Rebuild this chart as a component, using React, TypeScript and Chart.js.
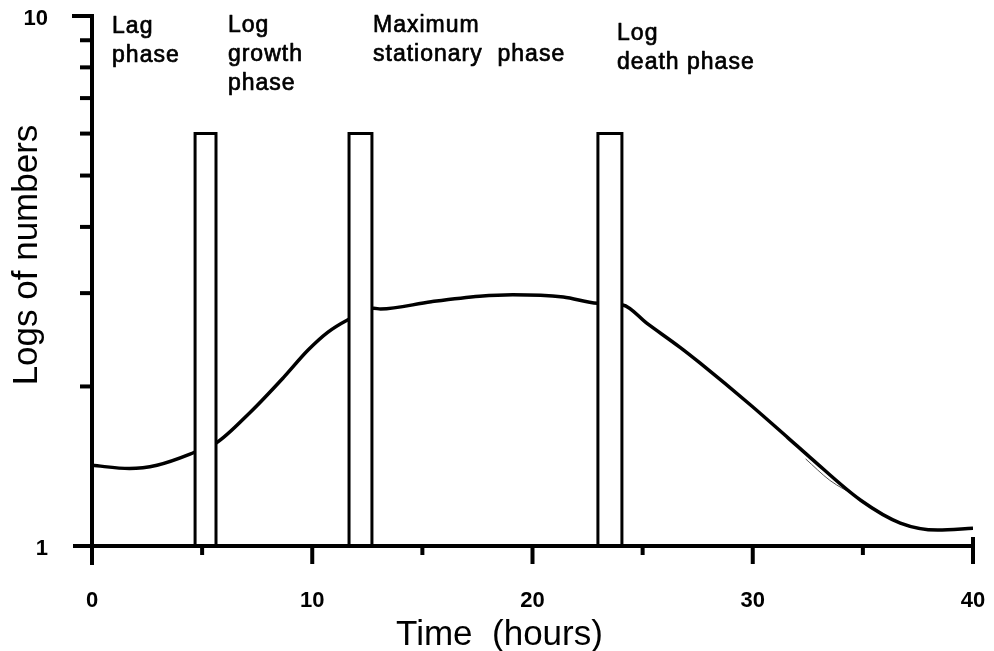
import React, { useEffect, useRef } from "react";
import { Chart, registerables } from "chart.js";

Chart.register(...registerables);

// Growth curve (time in hours, number of organisms on log scale)
const hours = [0, 1.7, 2.95, 4.45, 4.9, 5.6, 7.2, 8.7, 9.8, 10.7, 11.6, 12.8, 13.1, 15.4, 17.6, 19.1, 21.4, 22.95, 24.1, 25.2, 26.7, 27.6, 29.9, 31.6, 32.6, 34.9, 36.7, 38.4, 40];
const numbers = [1.42, 1.4, 1.42, 1.49, 1.52, 1.56, 1.79, 2.08, 2.34, 2.53, 2.67, 2.81, 2.8, 2.89, 2.96, 2.98, 2.95, 2.87, 2.85, 2.63, 2.37, 2.215, 1.845, 1.6, 1.47, 1.22, 1.105, 1.072, 1.08];

// faint second trace in the death phase
const traceHours = [32.4, 33.5, 34.7, 35.8, 37.0];
const traceNumbers = [1.46, 1.33, 1.24, 1.15, 1.09];

// phase separator bars (start hour, end hour, top value)
const barStarts = [4.68, 11.67, 22.97];
const barEnds = [5.63, 12.71, 24.06];
const barTops = [6, 6, 6];

// phase labels
const phaseHours = [0.91, 6.17, 12.76, 23.84];
const phaseLines = [["Lag", "phase"], ["Log", "growth", "phase"], ["Maximum", "stationary  phase"], ["Log", "death phase"]];
const phaseOffsets = [17, 16, 16, 24];

// axis ticks
const xLabelTicks = [0, 10, 20, 30, 40];
const xMinorTicks = [5, 15, 25, 35];
const yLabelTicks = [1, 10];
const yMinorTicks = [2, 3, 4, 5, 6, 7, 8, 9];

const xTitle = "Time  (hours)";
const yTitle = "Logs of numbers";

const decorPlugin = {
  id: "decor",
  afterDatasetsDraw(chart: any) {
    const { ctx, chartArea } = chart;
    const x = chart.scales.x;
    const y = chart.scales.y;
    ctx.save();
    ctx.strokeStyle = "#000";
    ctx.fillStyle = "#000";
    ctx.lineCap = "butt";
    const yb = y.getPixelForValue(1);
    const xl = x.getPixelForValue(0);
    const line = (x1: number, y1: number, x2: number, y2: number, w: number) => {
      ctx.lineWidth = w;
      ctx.beginPath();
      ctx.moveTo(x1, y1);
      ctx.lineTo(x2, y2);
      ctx.stroke();
    };
    // axes
    line(xl - 19, yb, x.getPixelForValue(40) + 2, yb, 4);
    line(xl, y.getPixelForValue(10) - 2, xl, yb + 19, 4);
    // x ticks
    xLabelTicks.forEach((v) => {
      const p = x.getPixelForValue(v);
      line(p, yb, p, yb + 18, 4);
    });
    xMinorTicks.forEach((v) => {
      const p = x.getPixelForValue(v);
      line(p, yb, p, yb + 9, 4);
    });
    const pEnd = x.getPixelForValue(40);
    line(pEnd, yb - 9, pEnd, yb, 4);
    // y ticks
    yMinorTicks.forEach((v) => {
      const p = y.getPixelForValue(v);
      line(xl - 12, p, xl, p, 4);
    });
    const pTop = y.getPixelForValue(10);
    line(xl - 20, pTop, xl, pTop, 4);

    // phase labels
    ctx.font = "23px Arial, 'Liberation Sans', sans-serif";
    try { (ctx as any).letterSpacing = "1px"; } catch (e) {}
    ctx.textAlign = "left";
    ctx.textBaseline = "alphabetic";
    ctx.lineWidth = 0.7;
    ctx.lineJoin = "round";
    phaseLines.forEach((lines, i) => {
      const px = x.getPixelForValue(phaseHours[i]);
      lines.forEach((t, j) => {
        const py = chartArea.top + phaseOffsets[i] + j * 29;
        ctx.fillText(t, px, py);
        ctx.strokeText(t, px, py);
      });
    });
    try { (ctx as any).letterSpacing = "0px"; } catch (e) {}

    // axis titles
    ctx.font = "35px Arial, 'Liberation Sans', sans-serif";
    ctx.textAlign = "center";
    ctx.fillText(xTitle, (chartArea.left + chartArea.right) / 2 - 33, chart.height - 6);
    ctx.save();
    ctx.translate(37, (chartArea.top + chartArea.bottom) / 2 - 26);
    ctx.rotate(-Math.PI / 2);
    ctx.fillText(yTitle, 0, 0);
    ctx.restore();
    ctx.restore();
  },
};

const zeroPadding = (s: any) => {
  s.paddingTop = 0;
  s.paddingBottom = 0;
  s.paddingLeft = 0;
  s.paddingRight = 0;
};

export default function App() {
  const ref = useRef<HTMLCanvasElement>(null);
  useEffect(() => {
    if (!ref.current) return;
    const barSets = barStarts.map((s, i) => ({
      label: "bar" + i,
      data: [
        { x: s, y: 1 },
        { x: s, y: barTops[i] },
        { x: barEnds[i], y: barTops[i] },
        { x: barEnds[i], y: 1 },
      ],
      borderColor: "#000",
      backgroundColor: "#fff",
      borderWidth: 3,
      fill: "start",
      pointRadius: 0,
      tension: 0,
      borderJoinStyle: "miter",
    }));
    const chart = new Chart(ref.current, {
      type: "line",
      data: {
        datasets: [
          ...barSets,
          {
            label: "growth",
            data: hours.map((h, i) => ({ x: h, y: numbers[i] })),
            borderColor: "#000",
            borderWidth: 3.5,
            pointRadius: 0,
            fill: false,
            cubicInterpolationMode: "monotone",
          },
          {
            label: "trace",
            data: traceHours.map((h, i) => ({ x: h, y: traceNumbers[i] })),
            borderColor: "#555",
            borderWidth: 1,
            pointRadius: 0,
            fill: false,
            cubicInterpolationMode: "monotone",
          },
        ] as any,
      },
      options: {
        animation: false,
        responsive: false,
        maintainAspectRatio: false,
        layout: { padding: { top: 16, right: 21, left: 0, bottom: 0 } },
        plugins: { legend: { display: false }, tooltip: { enabled: false } },
        scales: {
          x: {
            type: "linear",
            min: 0,
            max: 40,
            grid: { display: false, drawTicks: false },
            border: { display: false },
            afterBuildTicks: (s: any) => {
              s.ticks = xLabelTicks.map((v) => ({ value: v }));
            },
            afterFit: (s: any) => {
              s.height = 105;
              zeroPadding(s);
            },
            ticks: {
              color: "#000",
              padding: 42,
              maxRotation: 0,
              autoSkip: false,
              font: { family: "Arial, 'Liberation Sans', sans-serif", size: 22, weight: "bold" },
              callback: (v: any) => String(v),
            },
          },
          y: {
            type: "logarithmic",
            min: 1,
            max: 10,
            grid: { display: false, drawTicks: false },
            border: { display: false },
            afterBuildTicks: (s: any) => {
              s.ticks = yLabelTicks.map((v) => ({ value: v }));
            },
            afterFit: (s: any) => {
              s.width = 92;
              zeroPadding(s);
            },
            ticks: {
              color: "#000",
              padding: 44,
              labelOffset: 3,
              autoSkip: false,
              font: { family: "Arial, 'Liberation Sans', sans-serif", size: 22, weight: "bold" },
              callback: (v: any) => String(v),
            },
          },
        },
      } as any,
      plugins: [decorPlugin],
    });
    return () => chart.destroy();
  }, []);
  return (
    <div style={{ position: "absolute", left: 0, top: 0, width: 994, height: 651, background: "#fff" }}>
      <canvas ref={ref} width={994} height={651} style={{ display: "block" }} />
    </div>
  );
}
